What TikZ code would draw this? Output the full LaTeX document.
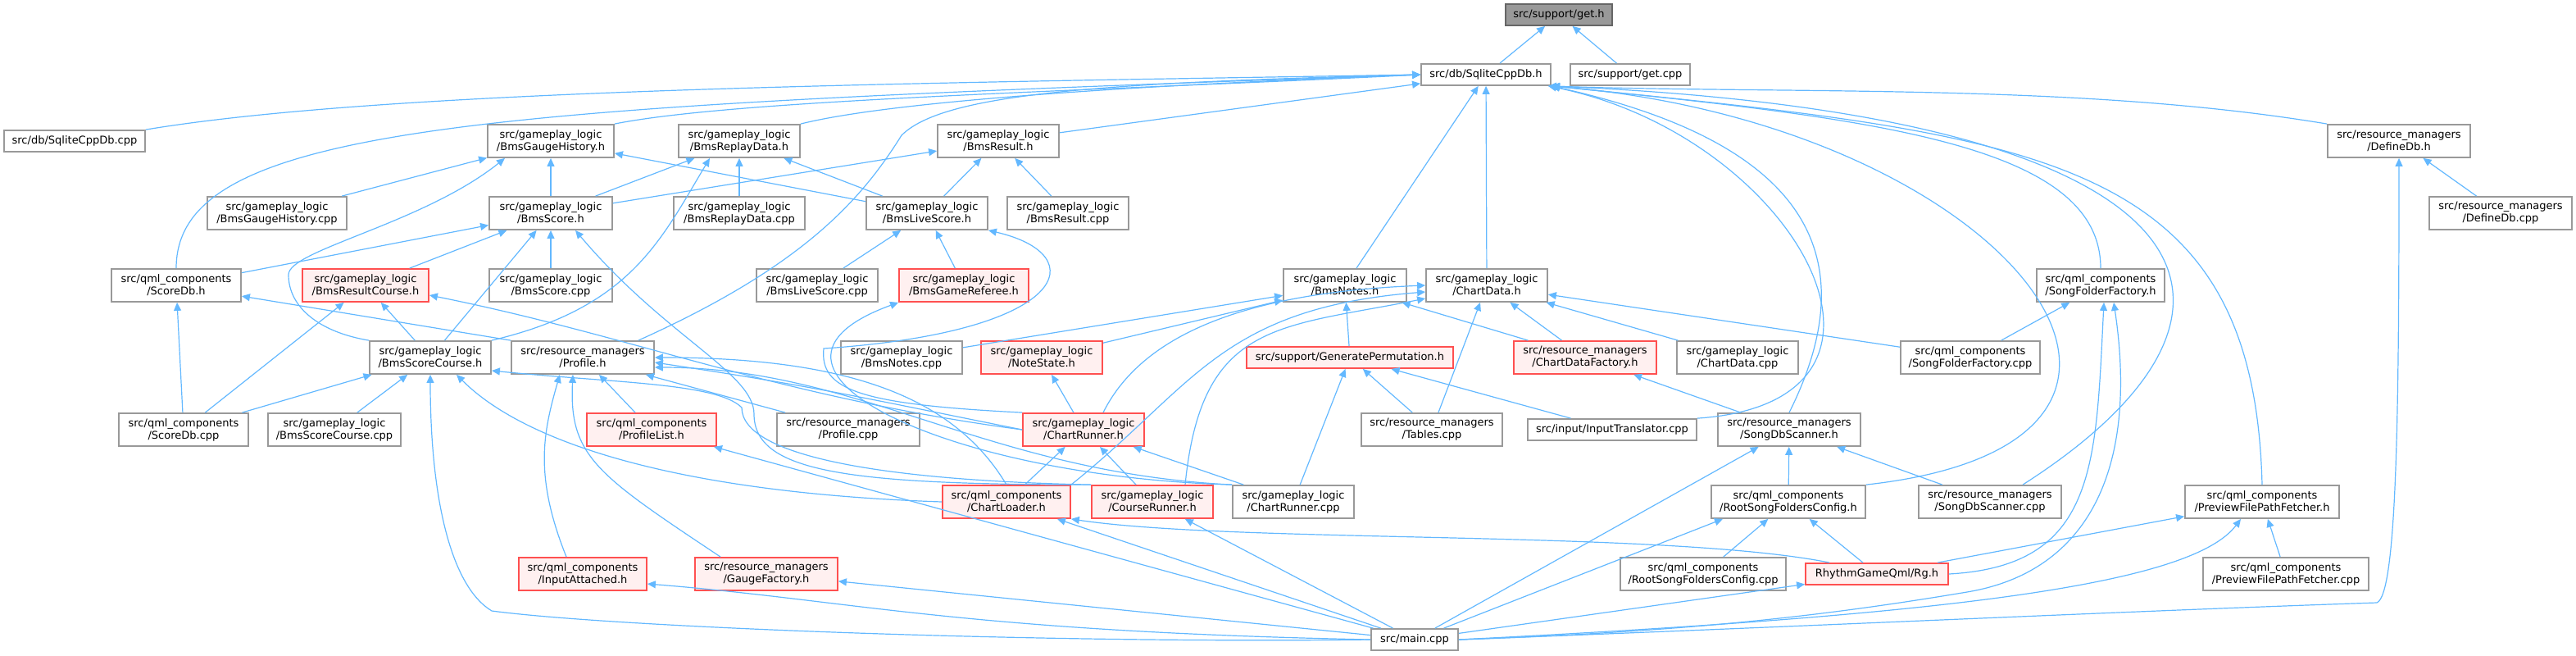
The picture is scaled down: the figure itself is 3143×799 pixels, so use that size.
\documentclass[tikz,border=0pt]{standalone}
\usepackage{fontspec}
\setmainfont{DejaVu Sans}
\usepackage{tikz}
\usetikzlibrary{arrows.meta}
\definecolor{edgeblue}{RGB}{99,184,255}
\definecolor{boxgray}{RGB}{153,153,153}
\definecolor{rootline}{RGB}{102,102,102}
\definecolor{hotline}{RGB}{255,80,80}
\definecolor{hotfill}{RGB}{255,240,240}
\tikzset{
  file/.style={draw=boxgray, fill=white, line width=0.9pt, inner sep=0pt, align=center,
               font=\fontsize{6.5}{7.5}\selectfont, minimum height=20pt},
  oneline/.style={minimum height=13pt},
  hot/.style={draw=hotline, fill=hotfill},
  root/.style={draw=rootline, fill=boxgray},
  dep/.style={draw=edgeblue, line width=0.6pt, -{Triangle[length=5pt,width=4.5pt]}}
}

\begin{document}
\begin{tikzpicture}[x=0.5pt,y=-0.5pt]
        \useasboundingbox (0,0) rectangle (3143,799);
        \node[file, oneline, root, minimum width=65pt] (getH) at (1902,18) {src/support/get.h};
        \node[file, oneline, minimum width=79pt] (sqliteH) at (1813,91) {src/db/SqliteCppDb.h};
        \node[file, oneline, minimum width=73pt] (getCpp) at (1989,91) {src/support/get.cpp};
        \node[file, oneline, minimum width=86pt] (sqliteCpp) at (91,172) {src/db/SqliteCppDb.cpp};
        \node[file, minimum width=77pt] (gaugeHistH) at (672,172) {src/gameplay\_logic\\/BmsGaugeHistory.h};
        \node[file, minimum width=74pt] (replayH) at (902,172) {src/gameplay\_logic\\/BmsReplayData.h};
        \node[file, minimum width=74pt] (resultH) at (1218,172) {src/gameplay\_logic\\/BmsResult.h};
        \node[file, minimum width=87pt] (defineDbH) at (2927,172) {src/resource\_managers\\/DefineDb.h};
        \node[file, minimum width=85pt] (gaugeHistCpp) at (338,260) {src/gameplay\_logic\\/BmsGaugeHistory.cpp};
        \node[file, minimum width=75pt] (scoreH) at (672,260) {src/gameplay\_logic\\/BmsScore.h};
        \node[file, minimum width=80pt] (replayCpp) at (902,260) {src/gameplay\_logic\\/BmsReplayData.cpp};
        \node[file, minimum width=74pt] (liveScoreH) at (1131,260) {src/gameplay\_logic\\/BmsLiveScore.h};
        \node[file, minimum width=74pt] (resultCpp) at (1303,260) {src/gameplay\_logic\\/BmsResult.cpp};
        \node[file, minimum width=87pt] (defineDbCpp) at (3051,260) {src/resource\_managers\\/DefineDb.cpp};
        \node[file, minimum width=79pt] (scoreDbH) at (215,348) {src/qml\_components\\/ScoreDb.h};
        \node[file, hot, minimum width=77pt] (resultCourseH) at (446,348) {src/gameplay\_logic\\/BmsResultCourse.h};
        \node[file, minimum width=75pt] (scoreCpp) at (672,348) {src/gameplay\_logic\\/BmsScore.cpp};
        \node[file, minimum width=74pt] (liveScoreCpp) at (997,348) {src/gameplay\_logic\\/BmsLiveScore.cpp};
        \node[file, hot, minimum width=79pt] (refereeH) at (1176,348) {src/gameplay\_logic\\/BmsGameReferee.h};
        \node[file, minimum width=75pt] (notesH) at (1641,348) {src/gameplay\_logic\\/BmsNotes.h};
        \node[file, minimum width=74pt] (chartDataH) at (1814,348) {src/gameplay\_logic\\/ChartData.h};
        \node[file, minimum width=78pt] (songFolderH) at (2563,348) {src/qml\_components\\/SongFolderFactory.h};
        \node[file, minimum width=74pt] (scoreCourseH) at (525,436) {src/gameplay\_logic\\/BmsScoreCourse.h};
        \node[file, minimum width=87pt] (profileH) at (711,436) {src/resource\_managers\\/Profile.h};
        \node[file, minimum width=74pt] (notesCpp) at (1100,436) {src/gameplay\_logic\\/BmsNotes.cpp};
        \node[file, hot, minimum width=74pt] (noteStateH) at (1271,436) {src/gameplay\_logic\\/NoteState.h};
        \node[file, oneline, hot, minimum width=126pt] (permutationH) at (1647,436) {src/support/GeneratePermutation.h};
        \node[file, hot, minimum width=87pt] (chartDataFactoryH) at (1934,436) {src/resource\_managers\\/ChartDataFactory.h};
        \node[file, minimum width=74pt] (chartDataCpp) at (2120,436) {src/gameplay\_logic\\/ChartData.cpp};
        \node[file, minimum width=85pt] (songFolderCpp) at (2404,436) {src/qml\_components\\/SongFolderFactory.cpp};
        \node[file, minimum width=79pt] (scoreDbCpp) at (224,524) {src/qml\_components\\/ScoreDb.cpp};
        \node[file, minimum width=81pt] (scoreCourseCpp) at (408,524) {src/gameplay\_logic\\/BmsScoreCourse.cpp};
        \node[file, hot, minimum width=79pt] (profileListH) at (795,524) {src/qml\_components\\/ProfileList.h};
        \node[file, minimum width=87pt] (profileCpp) at (1035,524) {src/resource\_managers\\/Profile.cpp};
        \node[file, hot, minimum width=74pt] (chartRunnerH) at (1322,524) {src/gameplay\_logic\\/ChartRunner.h};
        \node[file, minimum width=86pt] (tablesCpp) at (1747,524) {src/resource\_managers\\/Tables.cpp};
        \node[file, oneline, minimum width=103pt] (inputTranslatorCpp) at (1967,524) {src/input/InputTranslator.cpp};
        \node[file, minimum width=87pt] (songDbScannerH) at (2183,524) {src/resource\_managers\\/SongDbScanner.h};
        \node[file, hot, minimum width=78pt] (chartLoaderH) at (1228,612) {src/qml\_components\\/ChartLoader.h};
        \node[file, hot, minimum width=74pt] (courseRunnerH) at (1406,612) {src/gameplay\_logic\\/CourseRunner.h};
        \node[file, minimum width=74pt] (chartRunnerCpp) at (1578,612) {src/gameplay\_logic\\/ChartRunner.cpp};
        \node[file, minimum width=94pt] (rootSongH) at (2182,612) {src/qml\_components\\/RootSongFoldersConfig.h};
        \node[file, minimum width=87pt] (songDbScannerCpp) at (2428,612) {src/resource\_managers\\/SongDbScanner.cpp};
        \node[file, minimum width=94pt] (previewH) at (2760,612) {src/qml\_components\\/PreviewFilePathFetcher.h};
        \node[file, hot, minimum width=78pt] (inputAttachedH) at (711,700) {src/qml\_components\\/InputAttached.h};
        \node[file, hot, minimum width=87pt] (gaugeFactoryH) at (935,700) {src/resource\_managers\\/GaugeFactory.h};
        \node[file, minimum width=101pt] (rootSongCpp) at (2078,700) {src/qml\_components\\/RootSongFoldersConfig.cpp};
        \node[file, oneline, hot, minimum width=87pt] (rgH) at (2290,700) {RhythmGameQml/Rg.h};
        \node[file, minimum width=101pt] (previewCpp) at (2789,700) {src/qml\_components\\/PreviewFilePathFetcher.cpp};
        \node[file, oneline, minimum width=53pt] (mainCpp) at (1726,780) {src/main.cpp};
        \foreach \a/\b in {sqliteH/getH, getCpp/getH, resultH/sqliteH, notesH/sqliteH, chartDataH/sqliteH,
                           gaugeHistCpp/gaugeHistH, scoreH/gaugeHistH, liveScoreH/gaugeHistH,
                           scoreH/replayH, replayCpp/replayH, liveScoreH/replayH,
                           scoreH/resultH, liveScoreH/resultH, resultCpp/resultH,
                           scoreDbH/scoreH, resultCourseH/scoreH, scoreCourseH/scoreH, scoreCpp/scoreH,
                           liveScoreCpp/liveScoreH, refereeH/liveScoreH,
                           scoreDbCpp/scoreCourseH, scoreCourseCpp/scoreCourseH,
                           scoreDbCpp/scoreDbH, scoreDbCpp/resultCourseH, scoreCourseH/resultCourseH,
                           notesCpp/notesH, noteStateH/notesH, permutationH/notesH, chartDataFactoryH/notesH,
                           chartDataFactoryH/chartDataH, tablesCpp/chartDataH, chartDataCpp/chartDataH, songFolderCpp/chartDataH,
                           chartLoaderH/chartRunnerH, courseRunnerH/chartRunnerH, chartRunnerCpp/chartRunnerH, chartRunnerH/noteStateH,
                           tablesCpp/permutationH, chartRunnerCpp/permutationH, inputTranslatorCpp/permutationH,
                           profileListH/profileH, profileCpp/profileH,
                           mainCpp/profileListH, mainCpp/gaugeFactoryH, mainCpp/chartLoaderH, mainCpp/courseRunnerH,
                           mainCpp/songDbScannerH, rootSongH/songDbScannerH, songDbScannerCpp/songDbScannerH, songDbScannerH/chartDataFactoryH,
                           rootSongCpp/rootSongH, rgH/rootSongH, mainCpp/rgH, rgH/previewH, previewCpp/previewH,
                           songFolderCpp/songFolderH, defineDbCpp/defineDbH}
          \draw[dep] (\a) -- (\b);
        \draw[dep] (profileH.north west) -- (scoreDbH);
        \draw[dep] (mainCpp) -- ([xshift=-40pt]rootSongH.south);
        \draw[dep] (sqliteCpp.north east) .. controls +(300,-50) and +(-600,10) .. (sqliteH.west);
        \draw[dep] (gaugeHistH.north east) .. controls +(150,-30) and +(-400,20) .. (sqliteH.west);
        \draw[dep] (replayH.north east) .. controls +(100,-25) and +(-400,15) .. (sqliteH.west);
        \draw[dep] (scoreDbH.north) .. controls +(0,-178) and +(-1134,39) .. (sqliteH.west);
        \draw[dep] ([xshift=-10pt]profileH.north east) .. controls +(200,-90) and +(-50,80) .. (1100,165)
                   .. controls +(50,-50) and +(-400,10) .. (sqliteH.west);
        \draw[dep] (inputTranslatorCpp.north east) .. controls +(300,-20) and +(300,60) .. ([xshift=-2pt]sqliteH.south east);
        \draw[dep] (songDbScannerH.north) .. controls +(100,-200) and +(300,67) .. (sqliteH.south east);
        \draw[dep] (rootSongH.north east) .. controls +(474,-52) and +(558,46) .. (sqliteH.south east);
        \draw[dep] ([xshift=20pt]songDbScannerCpp.north) .. controls +(332,-212) and +(828,36) .. (sqliteH.south east);
        \draw[dep] (songFolderH.north) .. controls +(0,-150) and +(400,40) .. (sqliteH.south east);
        \draw[dep] (previewH.north) .. controls +(-10,-400) and +(600,60) .. (sqliteH.south east);
        \draw[dep] (defineDbH.north west) .. controls +(-300,-50) and +(300,10) .. ([xshift=-2pt]sqliteH.south east);
        \draw[dep] (scoreCourseH.north west) .. controls +(-60,-10) and +(0,40) .. (352,335)
                   .. controls +(0,-30) and +(-100,80) .. ([xshift=-28pt]gaugeHistH.south);
        \draw[dep] (scoreCourseH.north east) .. controls +(170,-40) and +(-60,100) .. ([xshift=-18pt]replayH.south);
        \draw[dep] (chartRunnerH.north west) .. controls +(-200,-10) and +(-5,50) .. (1005,425)
                   .. controls +(300,-20) and +(130,30) .. (liveScoreH.south east);
        \draw[dep] (chartRunnerCpp.north west) .. controls +(-350,-10) and +(-220,80) .. (refereeH.south west);
        \draw[dep] (mainCpp.west) .. controls +(-400,5) and +(150,20) .. (600,745)
                   .. controls +(-50,-30) and +(0,150) .. (scoreCourseH.south);
        \draw[dep] (chartLoaderH.west) .. controls +(-300,-10) and +(90,90) .. ([xshift=16pt]scoreCourseH.south);
        \draw[dep] (courseRunnerH.north west) .. controls +(-250,-5) and +(0,60) .. (905,497)
                   .. controls +(-30,-30) and +(150,15) .. ([yshift=-8pt]scoreCourseH.east);
        \draw[dep] (chartRunnerH.west) .. controls +(-300,-40) and +(250,50) .. ([yshift=-6pt]resultCourseH.east);
        \draw[dep] (courseRunnerH.north west) .. controls +(-300,0) and +(0,70) .. (920,505)
                   .. controls +(0,-50) and +(110,130) .. ([xshift=15pt]scoreH.south);
        \draw[dep] (chartRunnerH.west) .. controls +(-200,-40) and +(200,30) .. ([yshift=-3pt]profileH.east);
        \draw[dep] (chartLoaderH.north) .. controls +(-60,-100) and +(250,0) .. (profileH.east);
        \draw[dep] (chartRunnerCpp.north west) .. controls +(-300,-15) and +(250,0) .. ([yshift=-6pt]profileH.east);
        \draw[dep] ([xshift=-10pt]inputAttachedH.north) .. controls +(-40,-100) and +(-20,70) .. ([xshift=-14pt]profileH.south);
        \draw[dep] ([xshift=-28pt]gaugeFactoryH.north) .. controls +(-150,-100) and +(-5,100) .. ([xshift=-6pt]profileH.south);
        \draw[dep] (mainCpp.west) .. controls +(-500,-10) and +(250,20) .. ([yshift=-6pt]inputAttachedH.east);
        \draw[dep] ([xshift=12pt]chartRunnerH.north) .. controls +(40,-80) and +(-250,10) .. (chartDataH.west);
        \draw[dep] (chartLoaderH.north east) .. controls +(150,-120) and +(-250,20) .. ([yshift=-4pt]chartDataH.west);
        \draw[dep] ([xshift=20pt]courseRunnerH.north) .. controls +(20,-200) and +(-180,36) .. ([yshift=-8pt]chartDataH.west);
        \draw[dep] ([xshift=15pt]rgH.north west) .. controls +(-200,-40) and +(200,30) .. (chartLoaderH.south east);
        \draw[dep] (mainCpp.east) .. controls +(600,-30) and +(-60,80) .. ([xshift=-13pt]previewH.south);
        \draw[dep] (mainCpp.east) .. controls +(300,-10) and +(-150,25) .. (2400,722)
                   .. controls +(150,-25) and +(30,200) .. ([xshift=8pt]songFolderH.south);
        \draw[dep] (rgH.east) .. controls +(180,-10) and +(-10,200) .. ([xshift=2pt]songFolderH.south);
        \draw[dep] (mainCpp.east) .. controls +(400,-15) and +(-300,10) .. (2900,735)
                   .. controls +(25,-10) and +(0,300) .. (defineDbH.south);
      \end{tikzpicture}
\end{document}
